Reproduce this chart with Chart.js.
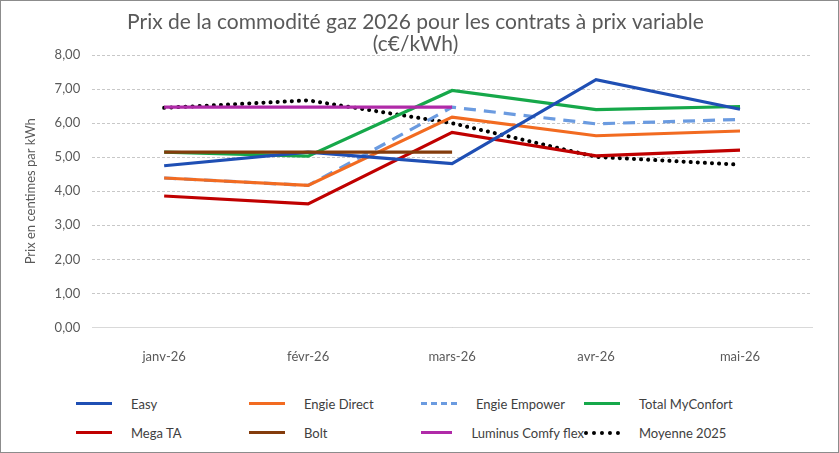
<!DOCTYPE html>
<html><head><meta charset="utf-8">
<script src="https://cdn.jsdelivr.net/npm/chart.js@4"></script>
<style>
body{margin:0;background:#fff;font-family:Lato,"Open Sans",sans-serif;}
#wrap{position:relative;width:837px;height:451px;border:1px solid #8c8c8c;}
#box{position:absolute;left:0;top:0;width:837px;height:378px;}
#legend{position:absolute;left:75px;top:394px;width:760px;display:grid;grid-template-columns:173px 172px 163px 200px;row-gap:12px;font-size:13px;color:#404040;white-space:nowrap;}
.it{display:flex;align-items:center;height:17px;}
.ln{width:36px;margin-right:19px;height:0;}
</style></head><body>
<div id="wrap"><div id="box"><canvas id="c"></canvas></div><div id="legend"></div></div>
<script>
const months = ["janv-26", "févr-26", "mars-26", "avr-26", "mai-26"];
const easy = [4.75, 5.15, 4.81, 7.28, 6.41];
const engieDirect = [4.39, 4.17, 6.18, 5.63, 5.77];
const engieEmpower = [4.39, 4.17, 6.47, 5.98, 6.11];
const totalMyConfort = [5.15, 5.03, 6.96, 6.40, 6.49];
const megaTA = [3.86, 3.63, 5.73, 5.04, 5.21];
const bolt = [5.15, 5.15, 5.15, null, null];
const luminus = [6.47, 6.47, 6.47, null, null];
const moyenne2025 = [6.45, 6.67, 6.0, 5.01, 4.78];

const series = [
  ["Easy", easy, "#1f4fb4", "solid"],
  ["Engie Direct", engieDirect, "#f26b21", "solid"],
  ["Engie Empower", engieEmpower, "#6b9be0", "dashed"],
  ["Total MyConfort", totalMyConfort, "#16a84a", "solid"],
  ["Mega TA", megaTA, "#c00000", "solid"],
  ["Bolt", bolt, "#843c0c", "solid"],
  ["Luminus Comfy flex", luminus, "#b02aa8", "solid"],
  ["Moyenne 2025", moyenne2025, "#000000", "dotted"]
];
const order = [6, 5, 0, 1, 2, 3, 4, 7];
const datasets = order.map(i => {
  const [label, data, color, style] = series[i];
  return {
    label, data, borderColor: color, backgroundColor: color,
    pointRadius: 0, tension: 0, fill: false,
    borderDash: style === "dashed" ? [12, 8] : style === "dotted" ? [0.1, 7] : [],
    borderCapStyle: style === "dotted" ? "round" : "butt",
    borderWidth: style === "dotted" ? 4 : 3.2
  };
});

new Chart(document.getElementById("c"), {
  type: "line",
  data: { labels: months, datasets },
  options: {
    responsive: true, maintainAspectRatio: false, animation: false,
    layout: { padding: { left: 18, right: 26, top: 0, bottom: 0 } },
    plugins: {
      legend: { display: false },
      tooltip: { enabled: false },
      title: {
        display: true,
        text: ["Prix de la commodité gaz 2026 pour les contrats à prix variable", "(c€/kWh)"],
        color: "#595959", font: { family: "Lato", size: 21, weight: "normal", lineHeight: 1.05 },
        padding: { top: 10, bottom: 0 }
      }
    },
    scales: {
      x: {
        offset: true,
        grid: { display: false }, border: { color: "#d9d9d9" },
        ticks: { color: "#595959", font: { family: "Lato", size: 13 }, padding: 14 }
      },
      y: {
        min: 0, max: 8,
        border: { display: false, dash: [3, 2] },
        grid: { color: "#c8c8c8", lineWidth: 1, drawTicks: false },
        ticks: { stepSize: 1, color: "#595959", font: { family: "Lato", size: 13 }, padding: 12,
          callback: v => v.toFixed(2).replace(".", ",") },
        title: { display: true, text: "Prix en centimes par kWh", color: "#595959", font: { family: "Lato", size: 13 } }
      }
    }
  }
});

const leg = document.getElementById("legend");
series.forEach(([label, , color, style]) => {
  const it = document.createElement("div");
  it.className = "it";
  const w = style === "dotted" ? 4 : 3;
  it.innerHTML = `<span class="ln" style="border-top:${w}px ${style} ${color}"></span><span>${label}</span>`;
  leg.append(it);
});
</script>
</body></html>
